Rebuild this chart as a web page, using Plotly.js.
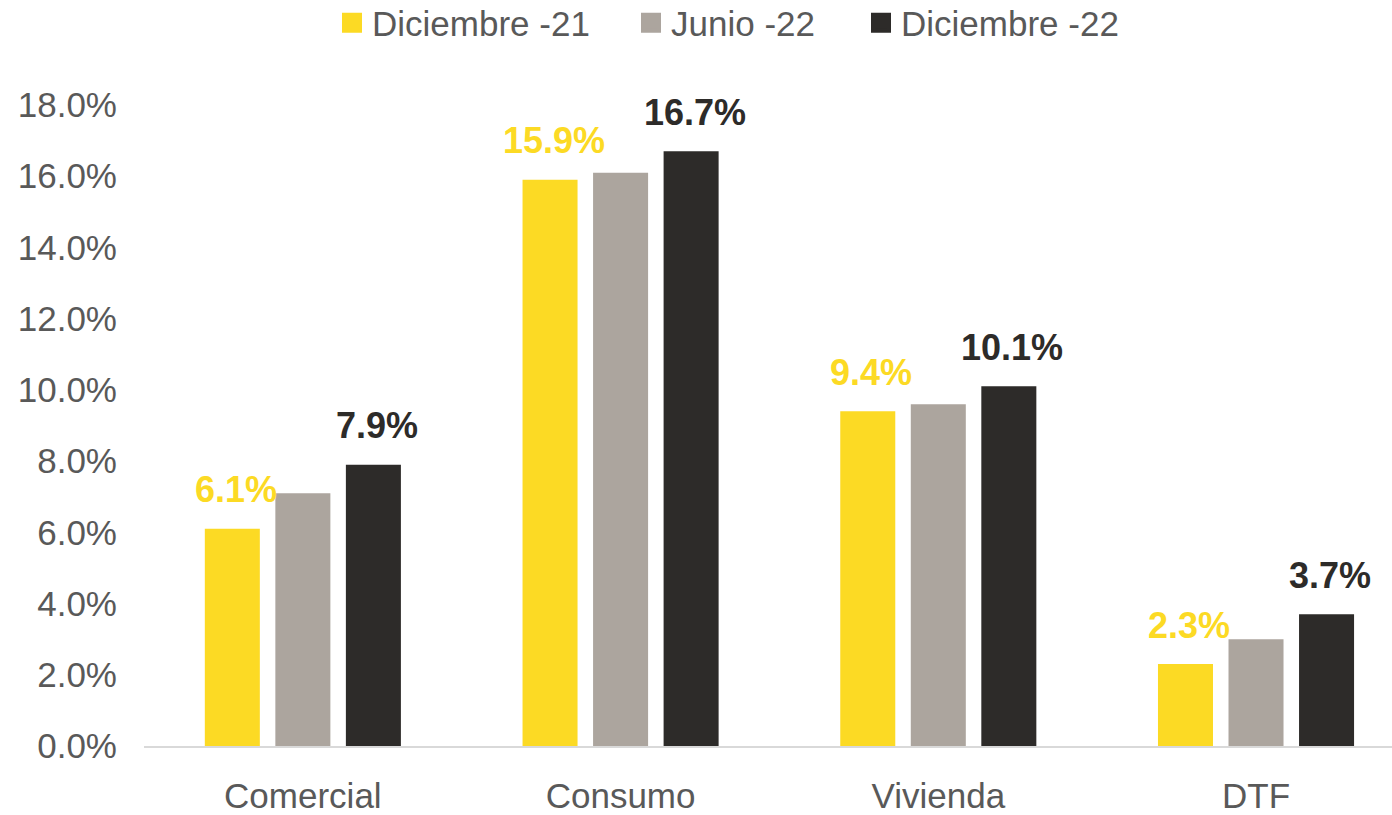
<!DOCTYPE html>
<html>
<head>
<meta charset="utf-8">
<script src="https://cdn.plot.ly/plotly-3.0.1.min.js"></script>
<style>
  html, body { margin: 0; padding: 0; background: #ffffff; }
  #chart { width: 1392px; height: 815px; }
</style>
</head>
<body>
<div id="chart"></div>
<script>
// ---- Data ----
var categories = ['Comercial', 'Consumo', 'Vivienda', 'DTF'];
var seriesNames = ['Diciembre -21', 'Junio -22', 'Diciembre -22'];
var dic21 = [6.1, 15.9, 9.4, 2.3];
var jun22 = [7.1, 16.1, 9.6, 3.0];
var dic22 = [7.9, 16.7, 10.1, 3.7];
var yTickValues = [0, 2, 4, 6, 8, 10, 12, 14, 16, 18];
var yTickLabels = ['0.0%', '2.0%', '4.0%', '6.0%', '8.0%', '10.0%', '12.0%', '14.0%', '16.0%', '18.0%'];

// ---- Styles ----
var colors = ['#FCDA24', '#ACA59E', '#2D2B29'];
var textGray = '#595959';
var fontFamily = '"Liberation Sans", Arial, sans-serif';
var seriesValues = [dic21, jun22, dic22];
var legendWidths = [254, 185, 224];

var traces = [];
seriesValues.forEach(function (vals, i) {
  traces.push({
    type: 'bar',
    name: seriesNames[i],
    x: categories,
    y: vals,
    marker: { color: colors[i] },
    showlegend: false,
    hoverinfo: 'x+y'
  });
});
// legend entries (larger square swatches)
seriesNames.forEach(function (name, i) {
  traces.push({
    type: 'scatter',
    mode: 'markers',
    name: name,
    x: [null],
    y: [null],
    marker: { symbol: 'square', size: 16, color: colors[i], line: { color: colors[i], width: 4 } },
    legendwidth: legendWidths[i],
    showlegend: true,
    hoverinfo: 'skip'
  });
});

// data labels for Diciembre -21 and Diciembre -22
var annotations = [];
var labelSeries = [
  { vals: dic21, color: colors[0], xshift: -67 },
  { vals: dic22, color: colors[2], xshift: 74 }
];
labelSeries.forEach(function (s) {
  s.vals.forEach(function (v, j) {
    annotations.push({
      x: categories[j],
      y: v,
      xref: 'x',
      yref: 'y',
      text: v.toFixed(1) + '%',
      showarrow: false,
      xanchor: 'center',
      yanchor: 'middle',
      xshift: s.xshift,
      yshift: 39,
      font: { family: fontFamily, size: 36, color: s.color, weight: 'bold' }
    });
  });
});

var layout = {
  width: 1392,
  height: 815,
  margin: { l: 144, r: 0, t: 105, b: 69, pad: 0 },
  paper_bgcolor: '#ffffff',
  plot_bgcolor: '#ffffff',
  font: { family: fontFamily, color: textGray, size: 35 },
  barmode: 'group',
  bargap: 0.334,
  bargroupgap: 0.22,
  showlegend: true,
  legend: {
    orientation: 'h',
    xref: 'container',
    yref: 'container',
    x: 332 / 1392,
    xanchor: 'left',
    y: 1 - 23 / 815,
    yanchor: 'middle',
    font: { family: fontFamily, size: 35, color: textGray },
    itemwidth: 30,
    bgcolor: 'rgba(0,0,0,0)',
    traceorder: 'normal'
  },
  xaxis: {
    type: 'category',
    categoryorder: 'array',
    categoryarray: categories,
    range: [-0.5, 3.428],
    showline: true,
    linecolor: '#D9D9D9',
    linewidth: 2,
    showgrid: false,
    zeroline: false,
    ticks: '',
    ticklabelstandoff: 18,
    tickfont: { family: fontFamily, size: 35, color: textGray },
    fixedrange: true
  },
  yaxis: {
    range: [0, 18],
    tickmode: 'array',
    tickvals: yTickValues,
    ticktext: yTickLabels,
    showline: false,
    showgrid: false,
    zeroline: false,
    ticks: '',
    ticklabelstandoff: 26,
    tickfont: { family: fontFamily, size: 35, color: textGray },
    fixedrange: true
  },
  annotations: annotations
};

Plotly.newPlot('chart', traces, layout, { displayModeBar: false, staticPlot: true });
</script>
</body>
</html>
